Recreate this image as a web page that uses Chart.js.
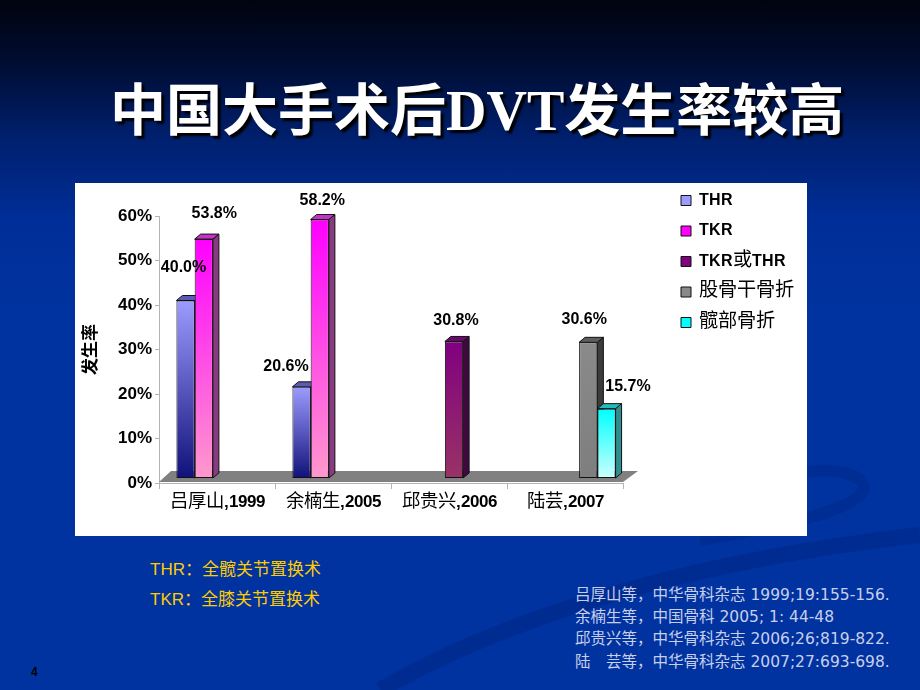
<!DOCTYPE html>
<html><head><meta charset="utf-8">
<script src="https://cdn.jsdelivr.net/npm/chart.js@4.4.1/dist/chart.umd.min.js"></script>
<style>
@font-face{font-family:"MixX";src:local("Liberation Sans Bold"),local("LiberationSans-Bold");unicode-range:U+0000-024F,U+2000-206F;}
@font-face{font-family:"MixX";src:local("Noto Sans CJK SC Regular"),local("NotoSansCJKsc-Regular"),local("Noto Sans CJK SC");size-adjust:108%;unicode-range:U+2E80-9FFF,U+FF00-FFEF,U+3000-303F;}
@font-face{font-family:"MixL";src:local("Liberation Sans Bold"),local("LiberationSans-Bold");unicode-range:U+0000-024F,U+2000-206F;}
@font-face{font-family:"MixL";src:local("Noto Sans CJK SC Regular"),local("NotoSansCJKsc-Regular"),local("Noto Sans CJK SC");size-adjust:120%;unicode-range:U+2E80-9FFF,U+FF00-FFEF,U+3000-303F;}
html,body{margin:0;padding:0;}
body{width:920px;height:690px;position:relative;overflow:hidden;
 background:linear-gradient(to bottom,#00040f 0px,#000c30 60px,#00206f 140px,#002e98 220px,#0033a0 320px,#0033a0 690px);
 font-family:"Liberation Sans","Noto Sans CJK SC",sans-serif;}
#swoosh{position:absolute;left:0;top:0;width:920px;height:690px;}
#title{position:absolute;left:110px;top:78px;font:bold 56px/56px "Noto Sans CJK SC",sans-serif;color:#fff;white-space:nowrap;text-shadow:3px 3px 2px #000;}
#title span{font-family:"Liberation Serif",serif;}
#panel{position:absolute;left:75px;top:183px;width:732px;height:353px;background:#fff;}
#wrap{position:absolute;left:75px;top:178px;width:732px;height:358px;}
.note{position:absolute;left:150px;font-size:17px;line-height:20px;color:#ffcc00;white-space:nowrap;}
#refs{position:absolute;left:575px;top:583px;font-size:15.5px;line-height:20.2px;color:#c8cfec;white-space:nowrap;font-family:"DejaVu Sans","Noto Sans CJK SC",sans-serif;}
#refs .c{font-family:"Noto Sans CJK SC",sans-serif;}
#pgno{position:absolute;left:31px;top:665px;font:bold 12px "Liberation Sans",sans-serif;color:#000;}
</style></head>
<body>
<svg id="swoosh" viewBox="0 0 920 690">
 <path d="M380 690 C 520 610, 700 560, 920 535" stroke="rgba(0,20,90,0.20)" stroke-width="16" fill="none"/>
 <path d="M700 540 C 820 520, 880 500, 860 480 C 840 465, 800 470, 790 480" stroke="rgba(0,20,90,0.16)" stroke-width="12" fill="none"/>
</svg>
<div id="title">中国大手术后<span>DVT</span>发生率较高</div>
<div id="panel"></div>
<div id="wrap"><canvas id="c" width="732" height="358"></canvas></div>
<div class="note" style="top:560px">THR：全髋关节置换术</div>
<div class="note" style="top:590px">TKR：全膝关节置换术</div>
<div id="refs"><span class="c">吕厚山等，中华骨科杂志</span> 1999;19:155-156.<br><span class="c">余楠生等，中国骨科</span> 2005; 1: 44-48<br><span class="c">邱贵兴等，中华骨科杂志</span> 2006;26;819-822.<br><span class="c">陆　芸等，中华骨科杂志</span> 2007;27:693-698.</div>
<div id="pgno">4</div>
<script>
// ---- data ----
const categories = ['吕厚山,1999', '余楠生,2005', '邱贵兴,2006', '陆芸,2007'];
const seriesNames = ['THR', 'TKR', 'TKR或THR', '股骨干骨折', '髋部骨折'];
const thrValues = [40.0, 20.6, null, null];
const tkrValues = [53.8, 58.2, null, null];
const tkrOrThrValues = [null, null, 30.8, null];
const femurShaftValues = [null, null, null, 30.6];
const hipFractureValues = [null, null, null, 15.7];
const yMin = 0, yMax = 60, yStep = 10;
const yAxisTitle = '发生率';

// ---- styles ----
const frontTop = ['#9c9cff', '#ff00ff', '#800080', '#8a8a8a', '#00ffff'];
const frontBottom = ['#10107a', '#ff99cc', '#993366', '#7e7e7e', '#ccffff'];
const topFace = ['#5b5bb5', '#c930c9', '#6a0a6a', '#5e5e5e', '#22bbbb'];
const sideFace = ['#2a2a80', '#8a3a80', '#3e0a3e', '#3c3c3c', '#2d8f8f'];
const legendFill = ['#8080e8', '#ff44ff', '#8a1a70', '#808080', '#40ffff'];
const labelNudge = { '0-0': [-2, -33], '1-0': [10.5, -25], '0-1': [-15.5, -20.5], '1-1': [2.5, -19],
  '2-2': [2, -21], '3-3': [-4, -22.5], '4-3': [21.5, -22] };
const SHIFT_X = 5, SHIFT_Y = -4.5, DEPTH_X = 6, DEPTH_Y = 5;
const LEGEND_FONT = 'MixL, "Liberation Sans", "Noto Sans CJK SC", sans-serif';
const LEGEND_PAD = 14.5, LEGEND_BOX = 10, LEGEND_SIZE = 16;
const CANVAS_W = 732, LEGEND_BOX_X = 605, PLOT_RIGHT = 547;

const allSeries = [thrValues, tkrValues, tkrOrThrValues, femurShaftValues, hipFractureValues];

function makeFill(i) {
  return (c) => {
    if (c.type !== 'data') return legendFill[i];
    const chart = c.chart;
    if (!chart.chartArea || c.raw == null) return frontTop[i];
    const ys = chart.scales.y;
    const t = ys.getPixelForValue(c.raw), b = ys.getPixelForValue(0);
    if (!isFinite(t) || !isFinite(b) || t === b) return frontTop[i];
    const g = chart.ctx.createLinearGradient(0, t, 0, b);
    g.addColorStop(0, frontTop[i]); g.addColorStop(1, frontBottom[i]);
    return g;
  };
}

const bar3d = {
  id: 'bar3d',
  beforeDatasetsDraw(chart) {
    const ctx = chart.ctx, xs = chart.scales.x, ys = chart.scales.y;
    const y0 = ys.getPixelForValue(0);
    ctx.save();
    ctx.fillStyle = '#808080';
    ctx.beginPath();
    ctx.moveTo(xs.left, y0 - 1);
    ctx.lineTo(xs.left + 12, y0 - 12);
    ctx.lineTo(xs.right + 15, y0 - 12);
    ctx.lineTo(xs.right, y0 - 1);
    ctx.closePath(); ctx.fill();
    ctx.restore();
    ctx.save();
    ctx.translate(SHIFT_X, SHIFT_Y);
    ctx.lineWidth = 1; ctx.strokeStyle = '#111';
    chart.data.datasets.forEach((ds, i) => {
      const meta = chart.getDatasetMeta(i);
      meta.data.forEach((el, j) => {
        if (ds.data[j] == null) return;
        const p = el.getProps(['x', 'y', 'base', 'width'], true);
        const l = p.x - p.width / 2, r = p.x + p.width / 2;
        ctx.fillStyle = sideFace[i];
        ctx.beginPath();
        ctx.moveTo(r, p.y); ctx.lineTo(r + DEPTH_X, p.y - DEPTH_Y);
        ctx.lineTo(r + DEPTH_X, p.base - DEPTH_Y); ctx.lineTo(r, p.base);
        ctx.closePath(); ctx.fill(); ctx.stroke();
        ctx.fillStyle = topFace[i];
        ctx.beginPath();
        ctx.moveTo(l, p.y); ctx.lineTo(l + DEPTH_X, p.y - DEPTH_Y);
        ctx.lineTo(r + DEPTH_X, p.y - DEPTH_Y); ctx.lineTo(r, p.y);
        ctx.closePath(); ctx.fill(); ctx.stroke();
      });
    });
  },
  afterDatasetsDraw(chart) {
    const ctx = chart.ctx;
    ctx.restore();
    ctx.save();
    ctx.font = 'bold 16px "Liberation Sans", Arial, sans-serif';
    ctx.fillStyle = '#000';
    ctx.textAlign = 'center';
    ctx.textBaseline = 'middle';
    chart.data.datasets.forEach((ds, i) => {
      const meta = chart.getDatasetMeta(i);
      meta.data.forEach((el, j) => {
        const v = ds.data[j];
        if (v == null) return;
        const p = el.getProps(['x', 'y'], true);
        const n = labelNudge[i + '-' + j] || [0, -22];
        ctx.fillText(v.toFixed(1) + '%', p.x + SHIFT_X + n[0], p.y + SHIFT_Y + n[1]);
      });
    });
    ctx.restore();
  }
};

let built = false;
function build() {
  if (built) return; built = true;
  const mctx = document.createElement('canvas').getContext('2d');
  mctx.font = 'normal ' + LEGEND_SIZE + 'px ' + LEGEND_FONT;
  const maxText = Math.max(...seriesNames.map(s => mctx.measureText(s).width));
  const legendW = LEGEND_PAD + LEGEND_BOX + LEGEND_SIZE / 2 + maxText + 10;
  const legendLeft = LEGEND_BOX_X - LEGEND_PAD;
  const padRight = Math.max(0, CANVAS_W - legendLeft - legendW - 1);
  const gapW = legendLeft - PLOT_RIGHT;

  new Chart(document.getElementById('c'), {
    type: 'bar',
    data: {
      labels: categories,
      datasets: allSeries.map((vals, i) => ({
        label: seriesNames[i],
        data: vals,
        backgroundColor: makeFill(i),
        borderColor: '#111',
        borderWidth: 1,
        borderSkipped: false,
        barPercentage: 1,
        categoryPercentage: 0.786,
        clip: false
      }))
    },
    options: {
      responsive: false,
      animation: false,
      events: [],
      layout: { padding: { left: 0, right: padRight, top: 0, bottom: 0 } },
      plugins: {
        tooltip: { enabled: false },
        title: { display: true, text: '', fullSize: false, font: { size: 10 }, padding: { top: 26, bottom: 0 } },
        legend: {
          position: 'right', align: 'start', maxWidth: legendW + 1,
          labels: { boxWidth: LEGEND_BOX, boxHeight: LEGEND_BOX, padding: LEGEND_PAD, color: '#000',
            font: { family: LEGEND_FONT, size: LEGEND_SIZE, weight: 'normal' } }
        }
      },
      scales: {
        x: {
          grid: { display: true, drawOnChartArea: false, tickLength: 6, color: '#b4b4b4' },
          border: { display: true, color: '#b4b4b4' },
          ticks: { color: '#000', padding: 3, maxRotation: 0, autoSkip: false,
            font: { family: 'MixX, "Liberation Sans", "Noto Sans CJK SC", sans-serif', size: 17, weight: 'normal' } },
          afterFit(s) { s.height = 53; }
        },
        y: {
          min: yMin, max: yMax,
          grid: { display: true, drawOnChartArea: false, tickLength: 4, color: '#b4b4b4' },
          border: { display: true, color: '#b4b4b4' },
          ticks: { stepSize: yStep, padding: 3, color: '#000',
            font: { family: '"Liberation Sans", Arial, sans-serif', size: 17, weight: 'bold' },
            callback: (v) => v + '%' },
          title: { display: true, text: yAxisTitle, color: '#000', padding: { top: 4, bottom: 4 },
            font: { family: '"Noto Sans CJK SC", sans-serif', size: 17, weight: 'bold' } },
          afterFit(s) { s.width = 84; }
        },
        gap: {
          type: 'linear', position: 'right', display: true,
          grid: { display: false }, border: { display: false }, ticks: { display: false },
          afterFit(s) { s.width = gapW; }
        }
      }
    },
    plugins: [bar3d]
  });
}
Promise.all([
  document.fonts.load('17px MixX', 'THR吕0'),
  document.fonts.load('16px MixL', 'THR股0'),
  document.fonts.load('bold 16px "Liberation Sans"', '0%'),
  document.fonts.load('bold 17px "Noto Sans CJK SC"', '发生率'),
  document.fonts.load('16px "Noto Sans CJK SC"', '吕')
]).then(build, build);
setTimeout(build, 1500);
</script>
</body></html>
